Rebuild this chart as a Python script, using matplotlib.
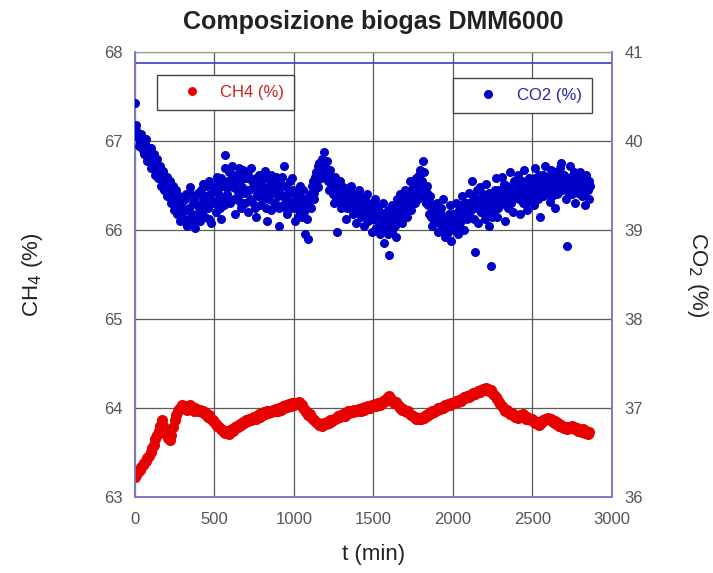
import numpy as np
import matplotlib.pyplot as plt

# Composizione biogas DMM6000 - campioni ogni 10 minuti
step_min = 10

ch4 = [
    63.22, 63.25, 63.28, 63.30, 63.33, 63.36, 63.38, 63.40, 63.44, 63.46,
    63.50, 63.55, 63.58, 63.65, 63.70, 63.74, 63.80, 63.86, 63.80, 63.72,
    63.70, 63.66, 63.64, 63.70, 63.78, 63.86, 63.92, 63.96, 63.99, 64.01,
    64.03, 64.00, 64.02, 63.98, 64.01, 64.03, 63.99, 63.97, 64.00, 63.98,
    63.96, 63.98, 63.95, 63.97, 63.93, 63.94, 63.90, 63.92, 63.88, 63.86,
    63.84, 63.82, 63.80, 63.78, 63.76, 63.75, 63.73, 63.72, 63.74, 63.71,
    63.73, 63.76, 63.74, 63.78, 63.80, 63.79, 63.82, 63.81, 63.84, 63.83,
    63.86, 63.85, 63.88, 63.86, 63.89, 63.90, 63.88, 63.91, 63.93, 63.90,
    63.92, 63.95, 63.93, 63.96, 63.94, 63.97, 63.95, 63.98, 63.96, 63.99,
    63.97, 64.00, 63.98, 64.02, 64.00, 64.03, 64.01, 64.04, 64.02, 64.05,
    64.03, 64.06, 64.04, 64.07, 64.05, 64.03, 64.00, 63.98, 63.95, 63.92,
    63.93, 63.90, 63.88, 63.86, 63.84, 63.83, 63.81, 63.82, 63.80, 63.83,
    63.82, 63.84, 63.83, 63.86, 63.85, 63.88, 63.87, 63.89, 63.91, 63.90,
    63.92, 63.93, 63.91, 63.94, 63.96, 63.94, 63.97, 63.95, 63.98, 63.96,
    63.97, 63.99, 63.97, 64.00, 63.98, 64.01, 64.00, 64.02, 64.00, 64.03,
    64.02, 64.04, 64.02, 64.05, 64.03, 64.06, 64.08, 64.07, 64.10, 64.12,
    64.13, 64.10, 64.08, 64.06, 64.07, 64.04, 64.02, 64.00, 63.98, 63.99,
    63.97, 63.95, 63.96, 63.93, 63.92, 63.91, 63.90, 63.88, 63.89, 63.87,
    63.88, 63.90, 63.89, 63.92, 63.91, 63.94, 63.93, 63.96, 63.95, 63.97,
    63.98, 64.00, 63.99, 64.01, 64.00, 64.03, 64.02, 64.04, 64.03, 64.05,
    64.06, 64.05, 64.08, 64.07, 64.09, 64.08, 64.10, 64.12, 64.11, 64.13,
    64.12, 64.14, 64.15, 64.17, 64.16, 64.18, 64.19, 64.18, 64.20, 64.21,
    64.20, 64.22, 64.21, 64.19, 64.20, 64.16, 64.14, 64.12, 64.10, 64.07,
    64.04, 64.02, 63.99, 63.97, 63.98, 63.95, 63.93, 63.94, 63.92, 63.90,
    63.91, 63.89, 63.92, 63.90, 63.93, 63.91, 63.88, 63.90, 63.87, 63.86,
    63.88, 63.85, 63.83, 63.84, 63.81, 63.82, 63.84, 63.86, 63.88, 63.87,
    63.89, 63.86, 63.87, 63.84, 63.85, 63.82, 63.83, 63.80, 63.81, 63.78,
    63.77, 63.79, 63.76, 63.78, 63.77, 63.80, 63.78, 63.76, 63.77, 63.74,
    63.75, 63.73, 63.76, 63.72, 63.74, 63.71, 63.73,
]

# CO2 letto agli stessi istanti di CH4
co2 = [
    40.43, 40.12, 40.05, 39.98, 40.08, 39.90, 39.95, 40.02, 39.82, 39.88,
    39.92, 39.75, 39.85, 39.68, 39.80, 39.62, 39.72, 39.55, 39.66, 39.48,
    39.60, 39.42, 39.55, 39.35, 39.50, 39.28, 39.45, 39.20, 39.38, 39.15,
    39.32, 39.12, 39.40, 39.05, 39.25, 39.48, 39.18, 39.35, 39.02, 39.28,
    39.42, 39.10, 39.30, 39.52, 39.15, 39.38, 39.25, 39.55, 39.08, 39.33,
    39.45, 39.20, 39.60, 39.35, 39.12, 39.50, 39.28, 39.84, 39.40, 39.65,
    39.30, 39.72, 39.48, 39.18, 39.62, 39.38, 39.55, 39.25, 39.68, 39.42,
    39.58, 39.20, 39.45, 39.70, 39.32, 39.52, 39.15, 39.40, 39.62, 39.28,
    39.50, 39.35, 39.66, 39.10, 39.42, 39.55, 39.22, 39.48, 39.30, 39.60,
    39.38, 39.05, 39.52, 39.28, 39.72, 39.35, 39.18, 39.45, 39.25, 39.58,
    39.32, 39.10, 39.42, 39.22, 39.50, 39.15, 39.35, 38.95, 39.28, 38.90,
    39.40, 39.25, 39.55, 39.35, 39.65, 39.48, 39.75, 39.58, 39.70, 39.88,
    39.62, 39.78, 39.45, 39.68, 39.52, 39.30, 39.60, 38.98, 39.42, 39.55,
    39.25, 39.48, 39.35, 39.12, 39.42, 39.28, 39.50, 39.18, 39.38, 39.08,
    39.30, 39.45, 39.15, 39.35, 39.05, 39.25, 39.40, 39.10, 39.28, 38.98,
    39.20, 39.35, 39.02, 39.25, 38.95, 39.15, 39.30, 38.85, 39.10, 39.22,
    38.72, 39.05, 39.28, 39.12, 38.92, 39.35, 39.18, 39.40, 39.08, 39.25,
    39.45, 39.15, 39.38, 39.55, 39.22, 39.48, 39.30, 39.58, 39.35, 39.62,
    39.42, 39.78, 39.65, 39.30, 39.50, 39.18, 39.38, 39.05, 39.25, 39.12,
    39.30, 38.98, 39.20, 39.08, 39.35, 38.92, 39.15, 39.02, 39.28, 38.88,
    39.18, 39.05, 39.30, 38.95, 39.22, 39.10, 39.38, 39.00, 39.25, 39.12,
    39.42, 39.15, 39.55, 39.28, 38.75, 39.35, 39.08, 39.48, 39.20, 39.40,
    39.12, 39.52, 39.30, 39.05, 38.60, 39.38, 39.22, 39.58, 39.15, 39.45,
    39.28, 39.60, 39.38, 39.10, 39.50, 39.25, 39.65, 39.35, 39.20, 39.55,
    39.40, 39.62, 39.18, 39.48, 39.30, 39.68, 39.42, 39.22, 39.58, 39.35,
    39.52, 39.28, 39.70, 39.45, 39.62, 39.15, 39.55, 39.38, 39.72, 39.48,
    39.60, 39.32, 39.68, 39.50, 39.25, 39.65, 39.42, 39.58, 39.75, 39.45,
    39.62, 39.35, 38.82, 39.55, 39.72, 39.40, 39.65, 39.30, 39.58, 39.48,
    39.65, 39.38, 39.52, 39.28, 39.60, 39.45, 39.55,
]

# CO2 letture intermedie (sfasate di 5 minuti)
co2_mid = [
    40.18, 40.08, 39.95, 40.02, 39.92, 39.85, 39.98, 39.78, 39.90, 39.80,
    39.70, 39.82, 39.62, 39.75, 39.58, 39.70, 39.50, 39.62, 39.45, 39.55,
    39.38, 39.50, 39.30, 39.45, 39.22, 39.40, 39.18, 39.32, 39.10, 39.25,
    39.20, 39.35, 39.08, 39.22, 39.42, 39.15, 39.30, 39.10, 39.38, 39.18,
    39.25, 39.45, 39.20, 39.35, 39.50, 39.28, 39.12, 39.40, 39.30, 39.48,
    39.30, 39.52, 39.42, 39.25, 39.58, 39.35, 39.70, 39.48, 39.55, 39.32,
    39.50, 39.62, 39.35, 39.55, 39.45, 39.70, 39.32, 39.48, 39.58, 39.30,
    39.45, 39.62, 39.35, 39.55, 39.48, 39.25, 39.58, 39.38, 39.45, 39.55,
    39.40, 39.58, 39.25, 39.48, 39.35, 39.62, 39.42, 39.30, 39.52, 39.45,
    39.25, 39.42, 39.60, 39.38, 39.50, 39.22, 39.40, 39.55, 39.32, 39.45,
    39.25, 39.38, 39.15, 39.40, 39.30, 39.45, 39.20, 39.35, 39.12, 39.30,
    39.35, 39.50, 39.42, 39.60, 39.55, 39.72, 39.62, 39.80, 39.65, 39.72,
    39.70, 39.55, 39.62, 39.48, 39.40, 39.55, 39.35, 39.50, 39.38, 39.30,
    39.40, 39.30, 39.45, 39.25, 39.35, 39.48, 39.30, 39.42, 39.22, 39.35,
    39.22, 39.38, 39.28, 39.20, 39.35, 39.15, 39.30, 39.22, 39.12, 39.25,
    39.12, 39.28, 39.18, 39.05, 39.20, 39.10, 39.00, 39.18, 39.05, 38.95,
    39.15, 38.98, 39.20, 39.05, 39.22, 39.10, 39.30, 39.15, 39.35, 39.20,
    39.30, 39.40, 39.25, 39.45, 39.35, 39.52, 39.40, 39.48, 39.55, 39.68,
    39.55, 39.45, 39.35, 39.42, 39.28, 39.30, 39.15, 39.20, 39.10, 39.22,
    39.15, 39.08, 39.25, 39.00, 39.12, 39.05, 38.95, 39.18, 39.02, 39.10,
    39.00, 39.15, 39.08, 39.20, 39.02, 39.28, 39.15, 39.22, 39.30, 39.20,
    39.30, 39.22, 39.38, 39.12, 39.25, 39.45, 39.30, 39.20, 39.35, 39.28,
    39.35, 39.20, 39.42, 39.28, 39.15, 39.30, 39.45, 39.32, 39.25, 39.38,
    39.45, 39.30, 39.52, 39.40, 39.35, 39.48, 39.30, 39.42, 39.55, 39.38,
    39.50, 39.35, 39.45, 39.55, 39.40, 39.52, 39.32, 39.45, 39.38, 39.55,
    39.40, 39.58, 39.48, 39.35, 39.52, 39.42, 39.62, 39.50, 39.40, 39.58,
    39.45, 39.55, 39.38, 39.60, 39.48, 39.40, 39.52, 39.70, 39.55, 39.62,
    39.50, 39.45, 39.58, 39.40, 39.52, 39.62, 39.48, 39.55, 39.42, 39.60,
    39.45, 39.55, 39.40, 39.62, 39.48, 39.35, 39.50,
]

t = np.arange(len(ch4)) * step_min
t_mid = t + step_min / 2

plt.rcParams['font.family'] = ['Liberation Sans', 'DejaVu Sans']

fig = plt.figure(figsize=(7.13, 5.73), dpi=100)
ax = fig.add_axes([0.189, 0.133, 0.669, 0.776])
ax2 = ax.twinx()

red = '#e60000'
blue = '#0000c8'
frame = '#7a7ac4'
grid_c = '#5a5a5a'

ax.plot(t, ch4, 'o', color=red, ms=8, mec=red, mew=0, label='CH4 (%)',
        zorder=3)
ax2.plot(t, co2, 'o', color=blue, ms=6.5, mec=blue, mew=0, label='CO2 (%)',
         zorder=3)
ax2.plot(t_mid, co2_mid, 'o', color=blue, ms=6.5, mec=blue, mew=0, zorder=3)

ax.set_xlim(0, 3000)
ax.set_ylim(63, 68)
ax2.set_ylim(36, 41)
ax.set_xticks(range(0, 3001, 500))
ax.set_yticks(range(63, 69))
ax2.set_yticks(range(36, 42))

ax.grid(True, color=grid_c, lw=0.9)
ax.set_axisbelow(True)
ax2.axhline(40.88, color='#3c3cc8', lw=1.2)

for a in (ax, ax2):
    a.tick_params(length=0, labelsize=12, labelcolor='#555555')
    for side in ('left', 'right', 'bottom'):
        a.spines[side].set_color(frame)
        a.spines[side].set_linewidth(1.2)
    a.spines['top'].set_color('#999999')
ax.tick_params(axis='x', pad=11)
ax.tick_params(axis='y', pad=9)
ax2.tick_params(axis='y', pad=9)

ax.set_title('Composizione biogas DMM6000', fontsize=18, fontweight='bold',
             color='#222222', pad=17)
ax.set_xlabel('t (min)', fontsize=16, color='#222222', labelpad=12)
ax.set_ylabel('CH$_4$ (%)', fontsize=16, color='#222222', labelpad=42)
ax2.set_ylabel('CO$_2$ (%)', fontsize=16, color='#222222', rotation=-90,
               labelpad=48)

leg_kw = dict(borderaxespad=0, fancybox=False, edgecolor='#444444',
              framealpha=1, fontsize=12, handlelength=3.0,
              handletextpad=0.2, borderpad=0.6)
leg1 = ax.legend(loc='upper left', bbox_to_anchor=(0.046, 0.948),
                 labelcolor='#d02020', markerscale=0.8, **leg_kw)
leg1.get_frame().set_linewidth(1.0)
leg2 = ax2.legend(loc='upper right', bbox_to_anchor=(0.958, 0.942),
                  labelcolor='#2828a0', markerscale=1.0, **leg_kw)
leg2.get_frame().set_linewidth(1.0)

fig.savefig('out.png', dpi=100)
